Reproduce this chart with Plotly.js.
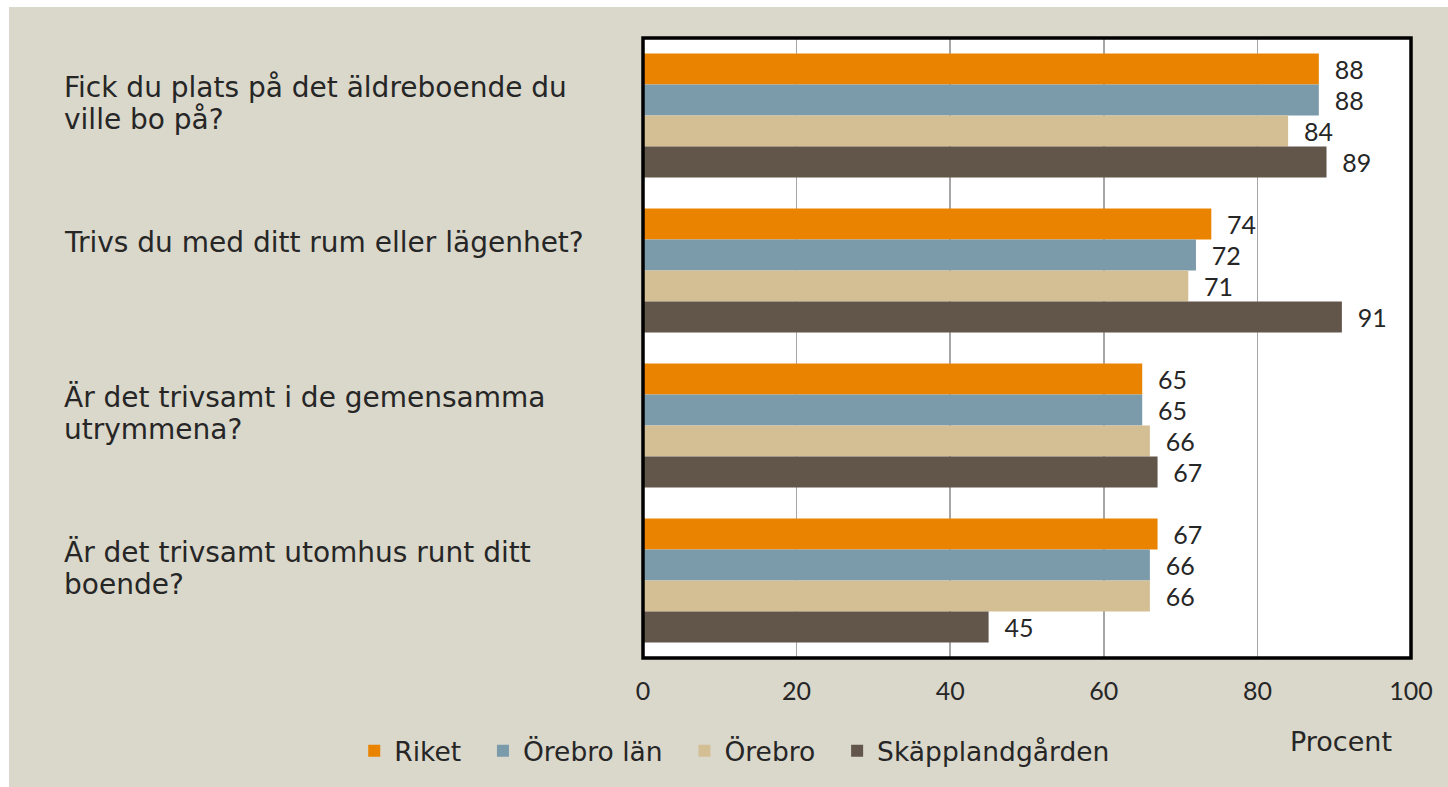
<!DOCTYPE html>
<html>
<head>
<meta charset="utf-8">
<script src="https://cdn.plot.ly/plotly-3.0.1.min.js"></script>
<style>
html,body{margin:0;padding:0;background:#ffffff;width:1448px;height:787px;overflow:hidden;}
#chart{position:absolute;left:9px;top:7px;width:1439px;height:780px;}
</style>
</head>
<body>
<div id="chart"></div>
<script>
const categories = [
  "Fick du plats på det äldreboende du<br>ville bo på?",
  "Trivs du med ditt rum eller lägenhet?",
  "Är det trivsamt i de gemensamma<br>utrymmena?",
  "Är det trivsamt utomhus runt ditt<br>boende?"
];
const seriesNames = ["Riket", "Örebro län", "Örebro", "Skäpplandgården"];
const riket = [88, 74, 65, 67];
const orebroLan = [88, 72, 65, 66];
const orebro = [84, 71, 66, 66];
const skapplandgarden = [89, 91, 67, 45];
const xTicks = [0, 20, 40, 60, 80, 100];
const axisTitle = "Procent";

const colors = ["#E98300", "#7B9AAA", "#D4BE94", "#62554A"];
const values = [riket, orebroLan, orebro, skapplandgarden];
const FONT = "Lato, 'Open Sans', sans-serif";
const TFONT = "'DejaVu Sans', sans-serif";

const traces = values.map((v, i) => ({
  type: "bar",
  orientation: "h",
  name: seriesNames[i] + "\u00A0\u00A0",
  x: v,
  y: categories,
  marker: {color: colors[i], line: {width: 0}},
  text: v.map(String),
  texttemplate: "\u00A0\u00A0%{text}",
  textposition: "outside",
  cliponaxis: false,
  textfont: {family: FONT, size: 25, color: "#262626"},
  hoverinfo: "skip"
}));

const LINE_H = 32;
const annotations = [];
categories.forEach(c => {
  c.split("<br>").forEach((line, k) => {
    annotations.push({
      xref: "paper", yref: "y",
      x: -0.7565, y: c,
      xanchor: "left", yanchor: "middle",
      yshift: 28 - k * LINE_H,
      align: "left",
      showarrow: false,
      text: line,
      font: {family: TFONT, size: 28, color: "#262626"}
    });
  });
});
annotations.push({
  xref: "paper", yref: "paper",
  x: 0.909, y: -0.134,
  xanchor: "center", yanchor: "middle",
  showarrow: false,
  text: axisTitle,
  font: {family: TFONT, size: 27, color: "#262626"}
});

const layout = {
  width: 1439, height: 780,
  paper_bgcolor: "#DAD7CB",
  plot_bgcolor: "#FFFFFF",
  margin: {l: 634, r: 37, t: 31, b: 129, pad: 0},
  barmode: "group",
  bargap: 0.2,
  bargroupgap: 0,
  showlegend: true,
  legend: {
    orientation: "h",
    x: -0.376, xanchor: "left",
    y: -0.15, yanchor: "middle",
    font: {family: TFONT, size: 26.5, color: "#262626"},
    bgcolor: "rgba(0,0,0,0)",
    traceorder: "normal"
  },
  xaxis: {
    range: [0, 100],
    tickvals: xTicks,
    ticktext: xTicks.map(String),
    showgrid: true,
    gridcolor: "#A6A6A6",
    gridwidth: 1.5,
    zeroline: false,
    ticks: "outside",
    ticklen: 11,
    tickcolor: "rgba(0,0,0,0)",
    tickfont: {family: FONT, size: 25, color: "#262626"},
    fixedrange: true
  },
  yaxis: {
    autorange: "reversed",
    showticklabels: false,
    showgrid: false,
    zeroline: false,
    ticks: "",
    fixedrange: true
  },
  shapes: [{
    type: "rect", xref: "paper", yref: "paper",
    x0: 0, x1: 1, y0: 0, y1: 1,
    line: {color: "#000000", width: 3.5},
    fillcolor: "rgba(0,0,0,0)",
    layer: "above"
  }],
  annotations: annotations
};

Plotly.newPlot("chart", traces, layout, {staticPlot: true, displayModeBar: false});
</script>
</body>
</html>
